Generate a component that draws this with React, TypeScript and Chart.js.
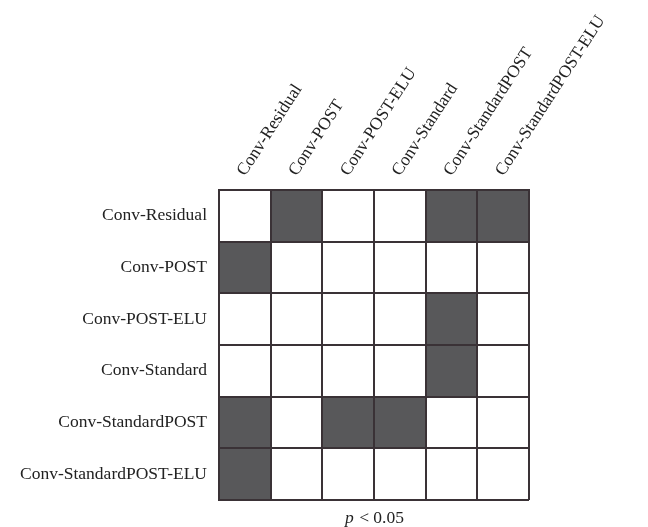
import React, { useEffect, useRef } from "react";
import { Chart, registerables } from "chart.js";

Chart.register(...registerables);

const columns = [
  "Conv-Residual",
  "Conv-POST",
  "Conv-POST-ELU",
  "Conv-Standard",
  "Conv-StandardPOST",
  "Conv-StandardPOST-ELU",
];
const rows = [
  "Conv-Residual",
  "Conv-POST",
  "Conv-POST-ELU",
  "Conv-Standard",
  "Conv-StandardPOST",
  "Conv-StandardPOST-ELU",
];
// 1 = significant (p < 0.05), one array per row
const rowResidual = [0, 1, 0, 0, 1, 1];
const rowPost = [1, 0, 0, 0, 0, 0];
const rowPostElu = [0, 0, 0, 0, 1, 0];
const rowStandard = [0, 0, 0, 0, 1, 0];
const rowStandardPost = [1, 0, 1, 1, 0, 0];
const rowStandardPostElu = [1, 0, 0, 0, 0, 0];
const matrix = [rowResidual, rowPost, rowPostElu, rowStandard, rowStandardPost, rowStandardPostElu];
const titleItalic = "p";
const titleRest = " < 0.05";

const FONT = "'Liberation Serif', 'Times New Roman', serif";
const FSIZE = 17.5;
const SIG = "#58585a";
const GRID = "#3a3236";

export default function App() {
  const ref = useRef<HTMLCanvasElement>(null);
  useEffect(() => {
    if (!ref.current) return;
    const datasets = matrix.map((vals, r) => ({
      label: rows[r],
      data: vals.map(() => [r, r + 1] as [number, number]),
      backgroundColor: vals.map((v) => (v ? SIG : "#ffffff")),
      borderWidth: 0,
      categoryPercentage: 1,
      barPercentage: 1,
      grouped: false,
    }));
    const titlePlugin = {
      id: "pTitle",
      afterDraw(chart: any) {
        const { ctx, chartArea } = chart;
        ctx.save();
        ctx.fillStyle = "#222";
        ctx.textBaseline = "middle";
        ctx.font = `italic ${FSIZE}px ${FONT}`;
        const w1 = ctx.measureText(titleItalic).width;
        ctx.font = `${FSIZE}px ${FONT}`;
        const w2 = ctx.measureText(titleRest).width;
        const cx = (chartArea.left + chartArea.right) / 2;
        const y = chartArea.bottom + 18;
        const x = cx - (w1 + w2) / 2;
        ctx.textAlign = "left";
        ctx.font = `italic ${FSIZE}px ${FONT}`;
        ctx.fillText(titleItalic, x, y);
        ctx.font = `${FSIZE}px ${FONT}`;
        ctx.fillText(titleRest, x + w1 + 1, y);
        ctx.restore();
      },
    };
    const chart = new Chart(ref.current, {
      type: "bar",
      data: { labels: columns, datasets: datasets as any },
      plugins: [titlePlugin],
      options: {
        animation: false,
        responsive: false,
        maintainAspectRatio: false,
        layout: { padding: { left: 0, top: 0, right: 119, bottom: 27 } },
        plugins: { legend: { display: false }, tooltip: { enabled: false } },
        scales: {
          x: {
            type: "category",
            position: "top",
            stacked: true,
            offset: true,
            grid: {
              offset: true,
              color: GRID,
              lineWidth: 2,
              drawTicks: false,
              z: 1,
            },
            border: { color: GRID, width: 2, z: 1 },
            ticks: {
              autoSkip: false,
              minRotation: 57,
              maxRotation: 57,
              padding: 10,
              labelOffset: 14,
              color: "#222",
              font: { family: FONT, size: FSIZE },
            },
            afterFit(scale: any) {
              scale.height = 190;
            },
          },
          y: {
            type: "linear",
            reverse: true,
            min: 0,
            max: 6,
            grid: {
              color: (c: any) => (Number.isInteger(c.tick?.value) ? GRID : "rgba(0,0,0,0)"),
              lineWidth: 2,
              drawTicks: false,
              z: 1,
            },
            border: { color: GRID, width: 2, z: 1 },
            ticks: {
              stepSize: 0.5,
              autoSkip: false,
              padding: 12,
              color: "#222",
              font: { family: FONT, size: FSIZE },
              callback: (v: any) => {
                const n = Number(v);
                if (Number.isInteger(n)) return "";
                return rows[Math.floor(n)];
              },
            },
            afterFit(scale: any) {
              scale.width = 219;
            },
          },
        },
      },
    });
    return () => chart.destroy();
  }, []);
  return (
    <div style={{ position: "fixed", left: 0, top: 0, width: 648, height: 527, background: "#fff" }}>
      <canvas ref={ref} width={648} height={527} style={{ width: 648, height: 527 }} />
    </div>
  );
}
